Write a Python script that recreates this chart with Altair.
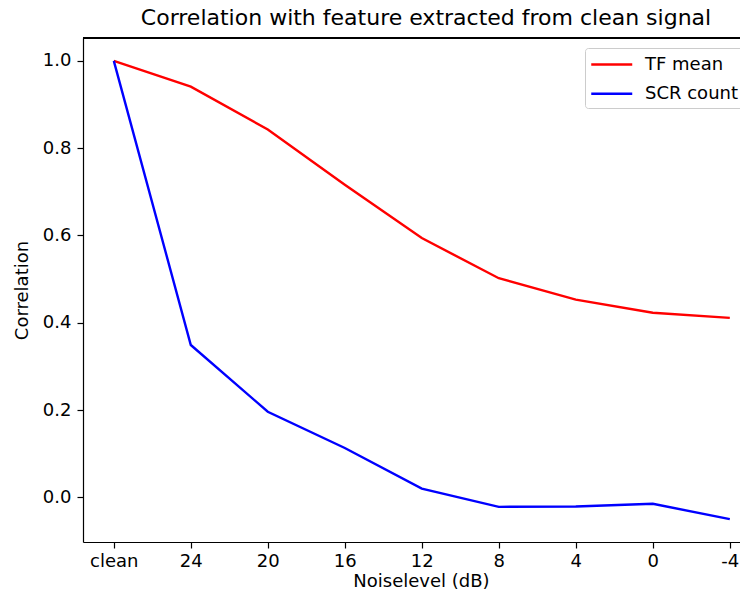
import altair as alt
import pandas as pd

levels = ["clean", "24", "20", "16", "12", "8", "4", "0", "-4"]
tf_mean = [1.0, 0.941, 0.843, 0.716, 0.594, 0.502, 0.453, 0.423, 0.411]
scr_count = [1.0, 0.349, 0.196, 0.113, 0.020, -0.022, -0.021, -0.015, -0.050]
series_names = ["TF mean", "SCR count"]
series_colors = ["#ff0000", "#0000ff"]
y_ticks = [0.0, 0.2, 0.4, 0.6, 0.8, 1.0]

rows = []
for name, vals in zip(series_names, [tf_mean, scr_count]):
    for i, (lvl, v) in enumerate(zip(levels, vals)):
        rows.append({"idx": i, "level": lvl, "value": v, "series": name})
df = pd.DataFrame(rows)

FONT = "DejaVu Sans"
FS = 18
W, H = 657, 504
label_expr = "[" + ",".join("'%s'" % l for l in levels) + "][datum.value]"

lines = alt.Chart(df).mark_line(strokeWidth=2.4).encode(
    x=alt.X("idx:Q",
            scale=alt.Scale(domain=[-0.4, -0.4 + W / 77.0], nice=False, zero=False),
            axis=alt.Axis(values=list(range(len(levels))), labelExpr=label_expr,
                          title="Noiselevel (dB)", titleX=338, titleY=39.5,
                          titleBaseline="middle", titleAlign="center",
                          labelPadding=4)),
    y=alt.Y("value:Q",
            scale=alt.Scale(domain=[-0.1025, 1.0525], nice=False, zero=False),
            axis=alt.Axis(values=y_ticks, format=".1f", title="Correlation",
                          titleX=-61, titleY=H / 2, titleAngle=270,
                          titleBaseline="middle", titleAlign="center",
                          labelPadding=6)),
    color=alt.Color("series:N",
                    scale=alt.Scale(domain=series_names, range=series_colors),
                    legend=alt.Legend(orient="none", legendX=502, legendY=10, title=None,
                                      symbolType="M-1,0H3", symbolSize=420,
                                      symbolStrokeWidth=2.4, labelFontSize=FS,
                                      labelFont=FONT, labelColor="#000000",
                                      padding=5, strokeColor="#cccccc",
                                      fillColor="white", cornerRadius=3,
                                      labelOffset=32, rowPadding=8.3)),
    order="idx:Q",
)

top_border = alt.Chart(df).mark_rule(color="#000000", strokeWidth=1.2).encode(
    x=alt.value(0), x2=alt.value(W + 2), y=alt.value(0)
)

chart = alt.layer(lines, top_border).properties(
    width=W, height=H,
    title=alt.TitleParams("Correlation with feature extracted from clean signal",
                          font=FONT, fontSize=22, fontWeight="normal",
                          color="#000000", anchor="middle", dx=14.5,
                          baseline="top", offset=7.5),
    autosize=alt.AutoSizeParams(type="none"),
    padding={"left": 75, "top": 30, "right": 0, "bottom": 48},
).configure_view(
    stroke=None
).configure_axis(
    grid=False, domainColor="#000000", domainWidth=1.2, tickColor="#000000",
    tickWidth=1.2, tickSize=6, labelFont=FONT, labelFontSize=FS,
    labelColor="#000000", titleFont=FONT, titleFontSize=FS,
    titleColor="#000000", titleFontWeight="normal",
)

chart.save("out.html", embed_options={"renderer": "svg", "actions": False})
